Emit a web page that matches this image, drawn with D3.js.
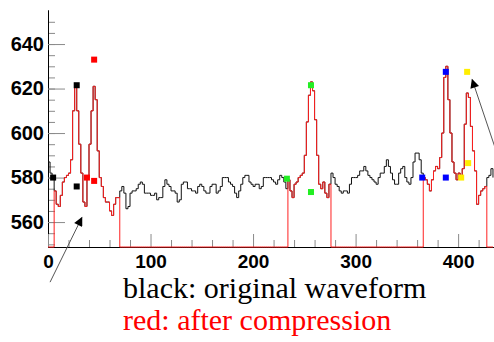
<!DOCTYPE html>
<html>
<head>
<meta charset="utf-8">
<script src="https://cdn.jsdelivr.net/npm/d3@7"></script>
<style>
  html, body { margin: 0; padding: 0; background: #ffffff; }
  svg { display: block; }
</style>
</head>
<body>
<svg id="chart" width="494" height="342"></svg>
<script>
// ---- data ----
const sampleStep = 2; // samples every 2 units from 0 to 434
const originalWave = [
  587,582,580,574,568,567,572,578,580,581,582,588,610,621,610,595,582,569,567,580,
  595,610,621,615,592,580,576,571,569,569,565,563,568,571,571,
  574,576,573,566,567,573,574,574,575,577,578,577,573,573,573,572,572,573,570,571,
  571,576,579,577,576,574,574,573,569,570,577,578,578,575,575,574,574,573,576,577,
  576,574,573,573,576,577,577,573,574,576,580,580,580,578,577,576,573,571,574,577,
  580,581,581,578,577,576,577,577,575,576,580,580,580,580,579,578,577,579,581,580,
  578,575,
  579,574,571,577,578,580,581,582,590,605,617,623,619,606,590,577,575,578,573,571,577,
  582,580,577,576,574,573,574,574,573,577,580,580,580,581,583,583,585,583,581,580,
  579,578,577,580,582,582,585,588,585,582,579,577,577,582,584,585,580,578,577,580,
  587,591,591,588,582,
  580,579,577,574,579,583,585,584,589,600,625,630,615,600,587,582,579,582,580,584,
  604,618,616,603,592,583,568,572,574,575,576,
  580,581,584,580
];
const compressedWave = [
  0,0,0,
  574,568,567,572,578,580,581,582,588,610,621,610,595,582,569,567,580,
  595,610,621,615,592,580,576,571,569,569,565,563,568,571,571,
  0,0,0,0,0,0,0,0,0,0,0,0,0,0,0,0,0,0,0,0,
  0,0,0,0,0,0,0,0,0,0,0,0,0,0,0,0,0,0,0,0,
  0,0,0,0,0,0,0,0,0,0,0,0,0,0,0,0,0,0,0,0,
  0,0,0,0,0,0,0,0,0,0,0,0,0,0,0,0,0,0,0,0,
  0,0,
  579,574,571,577,578,580,581,582,590,605,617,623,619,606,590,577,575,578,573,571,577,
  0,0,0,0,0,0,0,0,0,0,0,0,0,0,0,0,0,0,0,0,
  0,0,0,0,0,0,0,0,0,0,0,0,0,0,0,0,0,0,0,0,
  0,0,0,0,0,
  580,579,577,574,579,583,585,584,589,600,625,630,615,600,587,582,579,582,580,584,
  604,618,616,603,592,583,568,572,574,575,576,
  0,0,0,0
];
const blackMarkers  = [[5, 580], [28, 621.5], [28, 576]];
const redMarkers    = [[45, 633], [38, 580], [45, 578.5]];
const greenMarkers  = [[233, 579.5], [256.5, 621.5], [256.5, 573.5]];
const blueMarkers   = [[365, 580], [388, 627.5], [388, 580]];
const yellowMarkers = [[403, 580], [408.8, 627.5], [409.8, 586.5]];
const yMajorTicks = [560, 580, 600, 620, 640];
const yMinorTicks = [550, 555, 560, 565, 570, 575, 580, 585, 590, 595, 600, 605, 610, 615, 620, 625, 630, 635, 640, 645, 650];
const xMajorTicks = [0, 100, 200, 300, 400];
const xMinorTicks = [20, 40, 60, 80, 120, 140, 160, 180, 220, 240, 260, 280, 320, 340, 360, 380, 420];
const arrowLeft  = [[2, 533], [33, 562]];     // [tail, tip]
const arrowRight = [[440, 588], [413.7, 624]];
const legendLines = ["black: original waveform", "red: after compression"];

// ---- scales ----
const svg = d3.select("#chart");
const x = d3.scaleLinear().domain([0, 435]).range([48, 494]);
const y = d3.scaleLinear().domain([548.8, 655.3]).range([247, 10]).clamp(true);
const yFree = y.copy().clamp(false);

const sampleX = originalWave.map((_, i) => i * sampleStep);

// ---- axes ----
const yMinorAxis = d3.axisLeft(y).tickValues(yMinorTicks).tickSize(-7).tickSizeOuter(0).tickFormat("");
const yMajorAxis = d3.axisLeft(y).tickValues(yMajorTicks).tickSize(-17).tickSizeOuter(0).tickPadding(4);
const xMinorAxis = d3.axisBottom(x).tickValues(xMinorTicks).tickSize(-7).tickSizeOuter(0).tickFormat("");
const xMajorAxis = d3.axisBottom(x).tickValues(xMajorTicks).tickSize(-13).tickSizeOuter(0).tickPadding(8);

function styleAxis(g, fontSize) {
  g.selectAll(".tick line").attr("stroke", "#8a8a8a");
  g.select(".domain").attr("stroke", "#000").attr("stroke-width", 1);
  g.selectAll("text")
    .attr("fill", "#000")
    .style("font-family", "'Liberation Sans', Arial, sans-serif")
    .style("font-weight", "bold")
    .style("font-size", fontSize + "px");
}
svg.append("g").attr("transform", "translate(48,0)").call(yMinorAxis).call(g => styleAxis(g, 20));
svg.append("g").attr("transform", "translate(48,0)").call(yMajorAxis).call(g => styleAxis(g, 20));
svg.append("g").attr("transform", "translate(0,247)").call(xMinorAxis).call(g => styleAxis(g, 19));
svg.append("g").attr("transform", "translate(0,247)").call(xMajorAxis).call(g => styleAxis(g, 19));

// ---- waveforms ----
const line = d3.line()
  .x((d, i) => x(sampleX[i]))
  .y(d => y(d))
  .curve(d3.curveStepAfter);

svg.append("path")
  .datum(originalWave)
  .attr("d", line)
  .attr("fill", "none")
  .attr("stroke", "#111")
  .attr("stroke-width", 1);

svg.append("path")
  .datum(compressedWave)
  .attr("d", line)
  .attr("fill", "none")
  .attr("stroke", "#ff2020")
  .attr("stroke-width", 1);

// ---- markers ----
const markerSets = [
  [blackMarkers, "#000000"],
  [redMarkers, "#ff0000"],
  [greenMarkers, "#22ee22"],
  [blueMarkers, "#0000ff"],
  [yellowMarkers, "#ffee00"]
];
const size = 6;
markerSets.forEach(([pts, color]) => {
  svg.append("g").selectAll("rect")
    .data(pts)
    .join("rect")
    .attr("x", d => x(d[0]) - size / 2)
    .attr("y", d => y(d[1]) - size / 2)
    .attr("width", size)
    .attr("height", size)
    .attr("fill", color);
});

// ---- arrows ----
const defs = svg.append("defs");
defs.append("marker")
  .attr("id", "head")
  .attr("viewBox", "0 0 10 10")
  .attr("refX", 9).attr("refY", 5)
  .attr("markerWidth", 11).attr("markerHeight", 9)
  .attr("markerUnits", "userSpaceOnUse")
  .attr("orient", "auto")
  .append("path")
  .attr("d", "M0,0 L10,5 L0,10 Z")
  .attr("fill", "#000");

[arrowLeft, arrowRight].forEach(a => {
  svg.append("line")
    .attr("x1", x(a[0][0])).attr("y1", yFree(a[0][1]))
    .attr("x2", x(a[1][0])).attr("y2", yFree(a[1][1]))
    .attr("stroke", "#555")
    .attr("stroke-width", 1)
    .attr("marker-end", "url(#head)");
});

// ---- legend text ----
svg.append("g").selectAll("text")
  .data(legendLines)
  .join("text")
  .attr("x", 123)
  .attr("y", (d, i) => 298 + i * 32)
  .attr("fill", (d, i) => i === 0 ? "#000" : "#ff0000")
  .style("font-family", "'Liberation Serif', 'Times New Roman', serif")
  .style("font-size", "30px")
  .text(d => d);
</script>
</body>
</html>
